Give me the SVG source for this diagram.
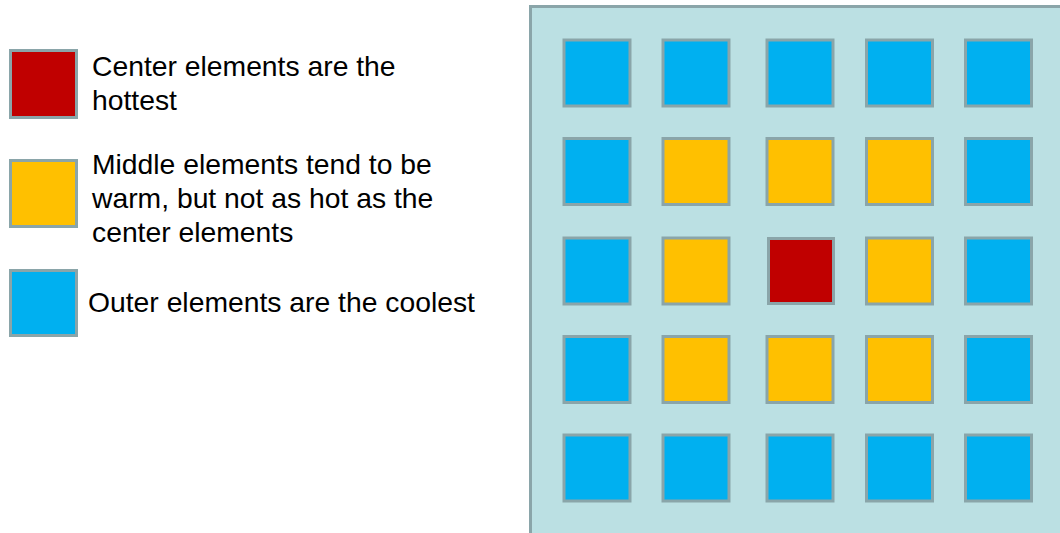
<svg xmlns="http://www.w3.org/2000/svg" width="1060" height="533" viewBox="0 0 1060 533">
<style>
.sq{stroke:#8aa5a9;stroke-width:3}
.hot{fill:#c00000}
.warm{fill:#ffc000}
.cool{fill:#00b0f0}
.lbl{font-family:"Liberation Sans",Arial,sans-serif;font-size:28.3px;fill:#000}
</style>
<rect width="1060" height="533" fill="#ffffff"/>
<g id="legend">
<g id="legend-hot">
<rect class="sq hot" x="10.5" y="50.5" width="66" height="67"/>
<text class="lbl" x="92" y="76">Center elements are the</text>
<text class="lbl" x="92" y="110">hottest</text>
</g>
<g id="legend-warm">
<rect class="sq warm" x="10.5" y="160.5" width="66" height="66"/>
<text class="lbl" x="92" y="174">Middle elements tend to be</text>
<text class="lbl" x="92" y="208">warm, but not as hot as the</text>
<text class="lbl" x="92" y="242">center elements</text>
</g>
<g id="legend-cool">
<rect class="sq cool" x="10.5" y="270.5" width="66" height="65"/>
<text class="lbl" x="88" y="312">Outer elements are the coolest</text>
</g>
</g>
<g id="plate">
<rect x="530.5" y="6.5" width="540" height="540" fill="#bbe0e3" stroke="#8aa5a9" stroke-width="3"/>
</g>
<g id="grid">
<g id="row1">
<rect class="sq cool" x="564" y="40" width="66" height="66"/>
<rect class="sq cool" x="663" y="40" width="66" height="66"/>
<rect class="sq cool" x="767" y="40" width="66" height="66"/>
<rect class="sq cool" x="866.5" y="40" width="66" height="66"/>
<rect class="sq cool" x="965.5" y="40" width="66" height="66"/>
</g>
<g id="row2">
<rect class="sq cool" x="564" y="138.5" width="66" height="66"/>
<rect class="sq warm" x="663" y="138.5" width="66" height="66"/>
<rect class="sq warm" x="767" y="138.5" width="66" height="66"/>
<rect class="sq warm" x="866.5" y="138.5" width="66" height="66"/>
<rect class="sq cool" x="965.5" y="138.5" width="66" height="66"/>
</g>
<g id="row3">
<rect class="sq cool" x="564" y="238" width="66" height="66"/>
<rect class="sq warm" x="663" y="238" width="66" height="66"/>
<rect class="sq hot" x="768.5" y="238.5" width="65" height="65"/>
<rect class="sq warm" x="866.5" y="238" width="66" height="66"/>
<rect class="sq cool" x="965.5" y="238" width="66" height="66"/>
</g>
<g id="row4">
<rect class="sq cool" x="564" y="336.5" width="66" height="66"/>
<rect class="sq warm" x="663" y="336.5" width="66" height="66"/>
<rect class="sq warm" x="767" y="336.5" width="66" height="66"/>
<rect class="sq warm" x="866.5" y="336.5" width="66" height="66"/>
<rect class="sq cool" x="965.5" y="336.5" width="66" height="66"/>
</g>
<g id="row5">
<rect class="sq cool" x="564" y="435" width="66" height="66"/>
<rect class="sq cool" x="663" y="435" width="66" height="66"/>
<rect class="sq cool" x="767" y="435" width="66" height="66"/>
<rect class="sq cool" x="866.5" y="435" width="66" height="66"/>
<rect class="sq cool" x="965.5" y="435" width="66" height="66"/>
</g>
</g>
<g id="connectors"/>
</svg>
